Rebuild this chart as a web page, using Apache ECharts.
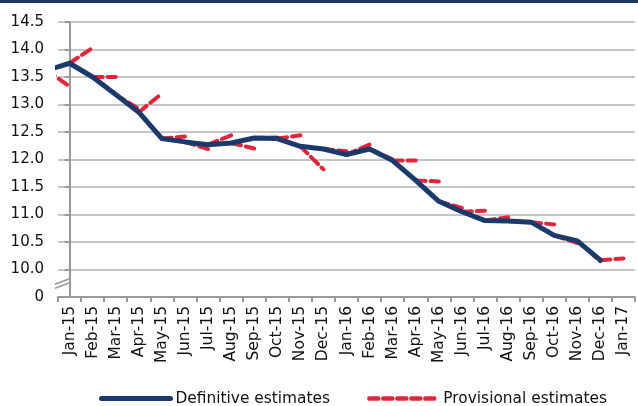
<!DOCTYPE html>
<html>
<head>
<meta charset="utf-8">
<script src="https://cdn.jsdelivr.net/npm/echarts@6/dist/echarts.min.js"></script>
<style>html,body{margin:0;padding:0;background:#fff;}#c{width:638px;height:406px;}</style>
</head>
<body>
<div id="c"></div>
<script>
const categories = ['Jan-15','Feb-15','Mar-15','Apr-15','May-15','Jun-15','Jul-15','Aug-15','Sep-15','Oct-15','Nov-15','Dec-15',
  'Jan-16','Feb-16','Mar-16','Apr-16','May-16','Jun-16','Jul-16','Aug-16','Sep-16','Oct-16','Nov-16','Dec-16','Jan-17'];
// Definitive estimates, starting one month before Jan-15 (Dec-14, clipped at the axis)
const definitiveStart = -1;
const definitive = [13.62, 13.75, 13.50, 13.18, 12.86, 12.38, 12.32, 12.27, 12.30, 12.39, 12.38, 12.24, 12.19,
  12.09, 12.19, 11.98, 11.62, 11.24, 11.05, 10.89, 10.88, 10.86, 10.62, 10.52, 10.17];
// Provisional estimates for Jan-15 .. Jan-17 (each drawn from the previous month's definitive value)
const provisional = [13.33, 14.03, 13.50, 12.92, 13.20, 12.42, 12.19, 12.44, 12.20, 12.40, 12.44, 11.82,
  12.15, 12.27, 12.00, 11.98, 11.60, 11.12, 11.07, 10.95, 10.86, 10.82, 10.48, 10.15, 10.20];
const yTicks = [9.5, 10, 10.5, 11, 11.5, 12, 12.5, 13, 13.5, 14, 14.5];
const yTickLabels = ['0', '10.0', '10.5', '11.0', '11.5', '12.0', '12.5', '13.0', '13.5', '14.0', '14.5'];

const defData = definitive.map((v, i) => [i + definitiveStart, v]);
const defAt = m => definitive[m - definitiveStart];
const provData = [];
provisional.forEach((v, m) => {
  provData.push([m - 1, defAt(m - 1)]);
  provData.push([m, v]);
  provData.push('-');
});

const FONT = 'DejaVu Sans';
const RED = '#e0253c', BLUE = '#1b3a6b';
const chart = echarts.init(document.getElementById('c'), null, {renderer: 'canvas'});
chart.setOption({
  animation: false,
  backgroundColor: '#fff',
  textStyle: {fontFamily: FONT},
  grid: {left: 58, right: 3, top: 22, bottom: 109, containLabel: false},
  legend: {
    left: 94, top: 386, itemWidth: 69, itemHeight: 14, itemGap: 37,
    data: [
      {name: 'Definitive estimates', itemStyle: {opacity: 0}, lineStyle: {width: 5, color: BLUE}},
      {name: 'Provisional estimates', itemStyle: {opacity: 0}, lineStyle: {width: 4.5, color: RED, type: [9, 5], cap: 'round'}}
    ],
    textStyle: {fontFamily: FONT, fontSize: 15.4, color: '#111'}
  },
  xAxis: [{
    type: 'category', data: categories, boundaryGap: true,
    axisLine: {lineStyle: {color: '#999', width: 2}},
    axisTick: {show: true, alignWithLabel: false, length: 5, lineStyle: {color: '#999', width: 2}},
    axisLabel: {rotate: 90, margin: 9, fontSize: 15.5, color: '#111', fontFamily: FONT, interval: 0},
    splitLine: {show: false}
  }, {
    type: 'value', min: -0.5, max: 24.5, show: false
  }],
  yAxis: {
    type: 'value', min: 9.5, max: 14.5, interval: 0.5,
    axisLine: {show: true, lineStyle: {color: '#999', width: 2}},
    axisTick: {show: true, length: 5, lineStyle: {color: '#999', width: 2}},
    axisLabel: {
      fontSize: 15, color: '#111', fontFamily: FONT, margin: 14,
      formatter: v => { const i = yTicks.findIndex(t => Math.abs(t - v) < 1e-6); return i >= 0 ? yTickLabels[i] : ''; }
    },
    splitLine: {show: true, lineStyle: {color: '#b3b3b3', width: 1.5}}
  },
  series: [{
    name: 'Provisional estimates', type: 'line', xAxisIndex: 1, data: provData,
    symbol: 'none', clip: true, connectNulls: false, z: 2,
    itemStyle: {color: RED},
    lineStyle: {color: RED, width: 4, type: [10, 5], cap: 'round'}
  }, {
    name: 'Definitive estimates', type: 'line', xAxisIndex: 1, data: defData,
    symbol: 'none', clip: true, z: 3,
    itemStyle: {color: BLUE},
    lineStyle: {color: BLUE, width: 5, cap: 'round', join: 'round'}
  }]
});

// decorations: top rule and the axis-break marks
const yBreak = chart.convertToPixel({yAxisIndex: 0}, 9.75);
const xAx = chart.convertToPixel({xAxisIndex: 1}, -0.5);
chart.setOption({
  graphic: [
    {type: 'rect', left: 0, top: 0, shape: {width: 638, height: 3}, style: {fill: '#1f3864'}},
    {type: 'group', children: [
      {type: 'rect', shape: {x: xAx - 4, y: yBreak - 6, width: 8, height: 12}, style: {fill: '#fff'}},
      {type: 'line', shape: {x1: xAx - 3, y1: yBreak + 1, x2: xAx + 13, y2: yBreak - 5}, style: {stroke: '#999', lineWidth: 1.5}},
      {type: 'line', shape: {x1: xAx - 3, y1: yBreak + 5, x2: xAx + 13, y2: yBreak - 1}, style: {stroke: '#999', lineWidth: 1.5}}
    ]}
  ]
});
</script>
</body>
</html>
